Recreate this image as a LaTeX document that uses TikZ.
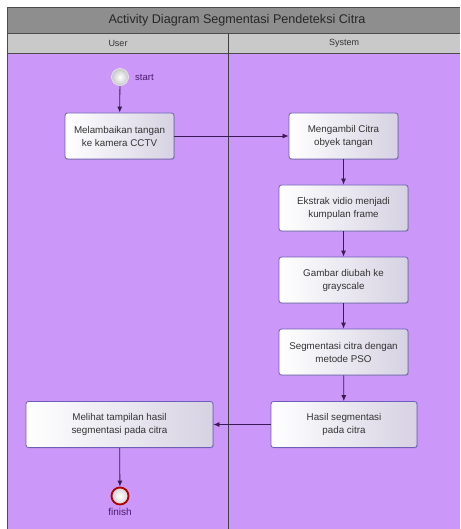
\documentclass[tikz,border=0pt]{standalone}
\usepackage{fontspec}
\setmainfont{Liberation Sans}
\usetikzlibrary{arrows.meta,shadows}
\definecolor{lane}{HTML}{CB97F8}
\definecolor{titlebar}{HTML}{8E8E8E}
\definecolor{headbar}{HTML}{C9C9C9}
\definecolor{boxline}{HTML}{6B5FB8}
\definecolor{flow}{HTML}{3A1A55}
\definecolor{boxend}{HTML}{D6D2E2}
\definecolor{lbl}{HTML}{4A1A70}
\tikzset{
  act/.style={draw=boxline, line width=0.8pt, rounded corners=2.5pt, left color=white, right color=boxend,
    minimum height=46pt, align=center, font=\fontsize{9.8}{13}\selectfont, text=black!80,
    drop shadow={shadow xshift=0.8pt, shadow yshift=-0.8pt, opacity=0.35}},
  flowline/.style={draw=flow, line width=0.8pt, -{Latex[length=6pt,width=5pt]}},
  lanetxt/.style={font=\fontsize{9}{10}\selectfont, text=black!80},
}
\begin{document}
\begin{tikzpicture}[x=1pt,y=-1pt]
\useasboundingbox (0,0) rectangle (460,529);
\fill[white] (0,0) rectangle (460,529);
% lanes
\fill[lane] (7,53) rectangle (460,529);
\fill[titlebar] (7,7) rectangle (460,33);
\fill[headbar] (7,33) rectangle (460,53);
\draw[black!70, line width=0.8pt] (7,529) -- (7,7) -- (460,7);
\draw[black!70, line width=0.6pt] (7,33) -- (460,33);
\draw[black!70, line width=0.6pt] (7,53) -- (460,53);
\draw[black!75, line width=0.8pt] (228,33) -- (228,529);
\node (title) [font=\fontsize{12.6}{14}\selectfont, text=black!85] at (237,20.5) {Activity Diagram Segmentasi Pendeteksi Citra};
\node (user) [lanetxt] at (118,43) {User};
\node (system) [lanetxt] at (344,43) {System};
% start
\node (start) [circle, minimum size=17pt, inner sep=0pt, draw=white!85!gray, line width=0.6pt, inner color=white, outer color=gray!45] at (120,77) {};
\node (startlbl) [anchor=west, font=\fontsize{9.5}{10}\selectfont, text=lbl, inner sep=1pt] at (134,77) {start};
% actions
\node (a1) [act, minimum width=109pt] at (119.5,136) {Melambaikan tangan\\ke kamera CCTV};
\node (a2) [act, minimum width=109pt] at (343.5,136) {Mengambil Citra\\obyek tangan};
\node (a3) [act, minimum width=129pt] at (343.5,208) {Ekstrak vidio menjadi\\kumpulan frame};
\node (a4) [act, minimum width=129pt] at (343.5,280) {Gambar diubah ke\\grayscale};
\node (a5) [act, minimum width=129pt] at (343.5,352) {Segmentasi citra dengan\\metode PSO};
\node (a6) [act, minimum width=146pt] at (344,424.5) {Hasil segmentasi\\pada citra};
\node (a7) [act, minimum width=187pt] at (119.5,424.5) {Melihat tampilan hasil\\segmentasi pada citra};
% finish
\node (finish) [circle, minimum size=17pt, inner sep=0pt, draw=red!70!black, line width=1.8pt, inner color=white, outer color=gray!35] at (120,496) {};
\node (finishlbl) [font=\fontsize{10}{10}\selectfont, text=lbl, inner sep=1pt] at (120,512) {finish};
% flows
\draw[flowline] (start) -- (a1);
\draw[flowline] (a1) -- (a2);
\draw[flowline] (a2) -- (a3);
\draw[flowline] (a3) -- (a4);
\draw[flowline] (a4) -- (a5);
\draw[flowline] (a5) -- (a6);
\draw[flowline] (a6) -- (a7);
\draw[flowline] (a7) -- (finish);
\end{tikzpicture}
\end{document}
